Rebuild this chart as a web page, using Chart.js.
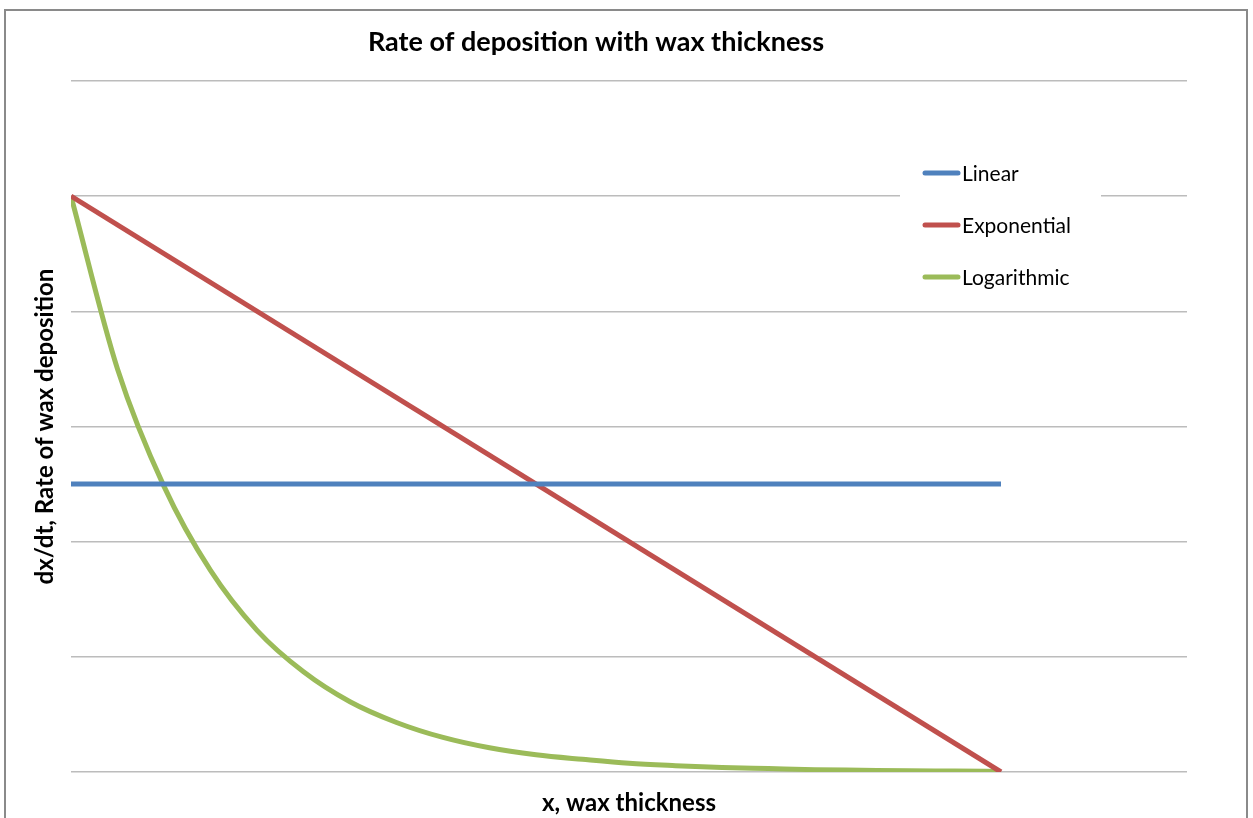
<!DOCTYPE html>
<html>
<head>
<meta charset="utf-8">
<script src="https://cdn.jsdelivr.net/npm/chart.js@4.4.0/dist/chart.umd.min.js"></script>
<style>
  html, body { margin: 0; padding: 0; background: #fff; }
  #wrap { position: relative; width: 1253px; height: 818px; overflow: hidden; }
  #frame { position: absolute; left: 4px; top: 9px; width: 1244px; height: 840px; border: 2px solid #8a8a8a; box-sizing: border-box; }
  canvas { position: absolute; left: 0; top: 0; }
</style>
</head>
<body>
<div id="wrap">
  <div id="frame"></div>
  <canvas id="chart" width="1253" height="818"></canvas>
</div>
<script>
const seriesNames = ["Linear", "Exponential", "Logarithmic"];
const seriesColors = ["#4F81BD", "#C0504D", "#9BBB59"];

const linearX = [0, 5];
const linearY = [2.5, 2.5];

const expX = [0, 5];
const expY = [5, 0];

const logX = [0, 0.25, 0.5, 0.75, 1, 1.25, 1.5, 1.75, 2, 2.25, 2.5, 2.75, 3, 3.25, 3.5, 3.75, 4, 4.25, 4.5, 4.75, 5];
const logY = [5, 3.5, 2.48, 1.75, 1.23, 0.87, 0.61, 0.43, 0.3, 0.21, 0.15, 0.11, 0.075, 0.055, 0.04, 0.03, 0.02, 0.015, 0.01, 0.008, 0.005];

const yTicks = [0, 1, 2, 3, 4, 5, 6];

const pts = (xs, ys) => xs.map((x, i) => ({ x, y: ys[i] }));

const FONT = "Lato, 'Open Sans', sans-serif";

// legend drawn inside the plot, like the Excel one
const boxLegend = {
  id: "boxLegend",
  afterDatasetsDraw(chart) {
    const c = chart.ctx;
    c.save();
    c.fillStyle = "#fff";
    c.fillRect(900, 148, 201, 152);
    c.font = "21px " + FONT;
    c.textBaseline = "middle";
    c.lineWidth = 5;
    c.lineCap = "round";
    chart.data.datasets.forEach((ds, i) => {
      const y = 173 + i * 52;
      c.strokeStyle = ds.borderColor;
      c.beginPath();
      c.moveTo(925, y);
      c.lineTo(958, y);
      c.stroke();
      c.fillStyle = "#000";
      c.fillText(ds.label, 962, y + 1);
    });
    c.restore();
  }
};

new Chart(document.getElementById("chart"), {
  type: "line",
  data: {
    datasets: [
      { label: seriesNames[0], data: pts(linearX, linearY), borderColor: seriesColors[0] },
      { label: seriesNames[1], data: pts(expX, expY), borderColor: seriesColors[1] },
      { label: seriesNames[2], data: pts(logX, logY), borderColor: seriesColors[2], cubicInterpolationMode: "monotone" }
    ]
  },
  options: {
    responsive: false,
    animation: false,
    layout: { padding: { left: 5, right: 66, top: 10, bottom: 0 } },
    elements: {
      point: { radius: 0 },
      line: { borderWidth: 5, fill: false }
    },
    plugins: {
      legend: { display: false },
      tooltip: { enabled: false },
      title: {
        display: true,
        text: "Rate of deposition with wax thickness",
        color: "#000",
        font: { family: FONT, size: 27, weight: "bold", lineHeight: 1.2 },
        padding: { top: 15.8, bottom: 22.8 }
      }
    },
    scales: {
      x: {
        type: "linear",
        min: 0,
        max: 6,
        ticks: { display: false },
        grid: { display: false, drawTicks: false },
        border: { display: false },
        title: {
          display: true,
          text: "x, wax thickness",
          color: "#000",
          font: { family: FONT, size: 24, weight: "bold", lineHeight: 1.2 },
          padding: { top: 16.6, bottom: 0.6 }
        }
      },
      y: {
        min: 0,
        max: 6,
        afterBuildTicks: s => { s.ticks = yTicks.map(v => ({ value: v })); },
        ticks: { display: false },
        grid: { color: "#bcbcbc", lineWidth: 1.5, drawTicks: false },
        border: { display: false },
        title: {
          display: true,
          text: "dx/dt, Rate of wax deposition",
          color: "#000",
          font: { family: FONT, size: 24, weight: "bold", lineHeight: 1.2 },
          padding: { top: 25.6, bottom: 11.6 }
        }
      }
    }
  },
  plugins: [boxLegend]
});
</script>
</body>
</html>
